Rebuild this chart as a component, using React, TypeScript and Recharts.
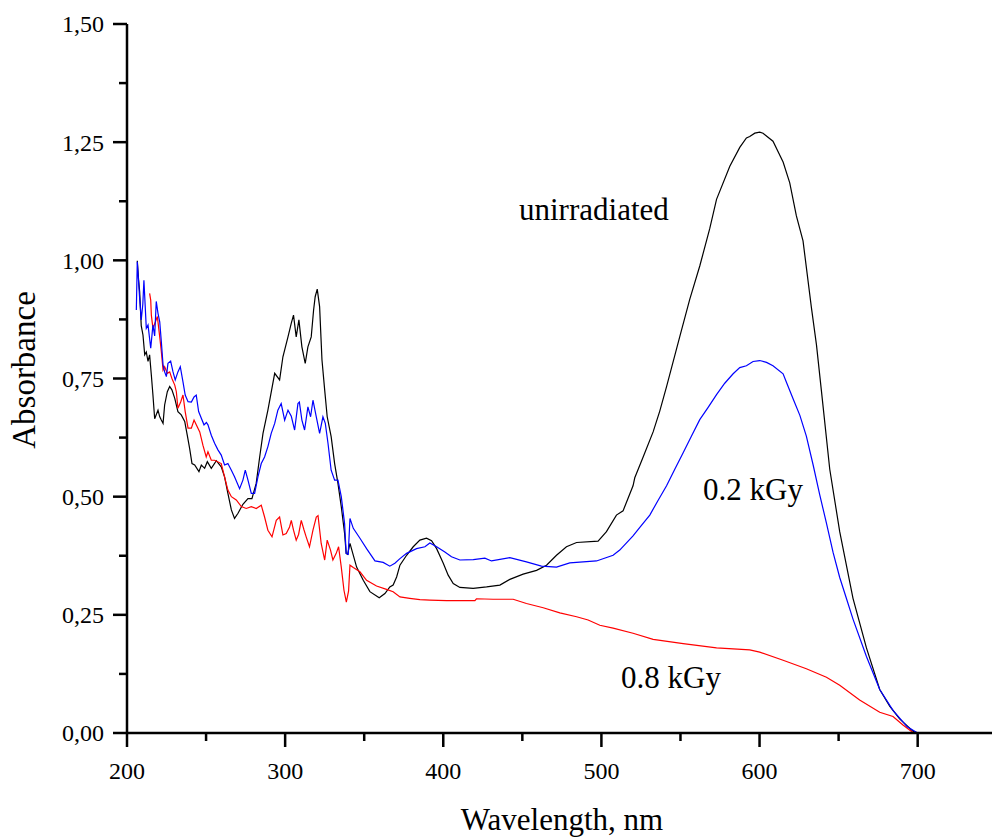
import React from 'react';
import { LineChart, Line, XAxis, YAxis } from 'recharts';

// ---- data (wavelength in nm, absorbance) ----
const unirradiatedNm = [
  206.5, 207.3, 208.0, 209.0, 210.1, 211.2, 212.2, 213.3, 214.3, 215.4, 216.4, 217.5, 219.6, 220.7, 221.7, 222.8,
  223.8, 225.5, 227.0, 228.4, 230.2, 232.2, 234.3, 236.5, 238.1, 239.6, 241.1, 242.8, 245.5, 247.0, 249.1, 250.8,
  253.3, 256.5, 259.6, 261.7, 263.8, 266.0, 268.0, 270.2, 273.3, 276.5, 279.0, 281.7, 283.9, 286.0, 289.1, 293.4,
  296.5, 298.6, 301.8, 303.9, 305.3, 307.0, 308.7, 310.6, 312.7, 314.4, 316.5, 318.0, 319.0, 320.3, 321.8, 323.3,
  325.0, 326.6, 329.1, 331.3, 333.4, 335.5, 337.6, 338.6, 339.5, 341.0, 345.2, 349.4, 353.6, 359.5, 363.1, 366.2,
  368.3, 370.5, 372.6, 376.8, 381.0, 385.2, 389.4, 392.6, 395.8, 400.0, 403.1, 406.3, 410.5, 414.7, 418.9, 427.4,
  435.8, 442.1, 450.5, 459.0, 465.3, 471.6, 477.9, 484.3,
  497.9, 503.2, 509.5, 513.7, 520.0, 521.1, 526.4, 532.7, 536.9, 541.2, 549.6, 555.9, 562.2, 568.5, 572.8, 581.2,
  587.5, 591.7, 593.8, 597.0, 600.1, 602.2, 608.5, 614.9, 619.1, 623.3, 627.5, 632.8, 636.0, 639.1, 644.4, 650.7,
  659.1, 667.6, 676.0, 682.3, 688.6, 697.0, 700.0,
];
const unirradiatedAbs = [
  0.999, 0.960, 0.934, 0.862, 0.842, 0.800, 0.806, 0.786, 0.800, 0.757, 0.715, 0.665, 0.683, 0.669, 0.662, 0.655,
  0.694, 0.722, 0.733, 0.726, 0.708, 0.680, 0.673, 0.659, 0.630, 0.602, 0.570, 0.567, 0.553, 0.567, 0.560, 0.574,
  0.560, 0.576, 0.563, 0.542, 0.507, 0.472, 0.454, 0.465, 0.484, 0.496, 0.496, 0.528, 0.584, 0.634, 0.683, 0.761,
  0.747, 0.796, 0.838, 0.867, 0.884, 0.838, 0.874, 0.817, 0.782, 0.817, 0.838, 0.895, 0.923, 0.939, 0.902, 0.789,
  0.726, 0.669, 0.627, 0.570, 0.528, 0.479, 0.422, 0.380, 0.378, 0.401, 0.351, 0.323, 0.299, 0.286, 0.295, 0.309,
  0.313, 0.330, 0.355, 0.376, 0.394, 0.408, 0.412, 0.407, 0.390, 0.359, 0.334, 0.316, 0.308, 0.307, 0.306, 0.309,
  0.313, 0.325, 0.336, 0.344, 0.355, 0.376, 0.394, 0.403,
  0.406, 0.426, 0.461, 0.470, 0.523, 0.540, 0.584, 0.637, 0.681, 0.733, 0.839, 0.918, 0.988, 1.067, 1.129, 1.199,
  1.239, 1.259, 1.262, 1.269, 1.271, 1.269, 1.252, 1.208, 1.164, 1.094, 1.041, 0.900, 0.821, 0.725, 0.558, 0.426,
  0.285, 0.180, 0.092, 0.057, 0.030, 0.004, 0.000,
];

const dose02Nm = [
  205.9, 206.5, 208.0, 209.0, 210.0, 210.7, 212.2, 213.3, 215.0, 216.4, 217.5, 218.5, 219.6, 220.7, 221.7, 222.8,
  223.8, 224.9, 225.9, 227.6, 229.1, 230.5, 232.2, 233.7, 235.4, 236.8, 238.6, 240.7, 242.4, 243.8, 245.3, 247.0,
  248.7, 250.2, 251.2, 253.3, 255.4, 257.5, 259.6, 261.7, 263.8, 266.0, 268.0, 271.2, 273.3, 274.8, 276.5, 278.6,
  280.7, 282.8, 284.9, 287.0, 289.1, 291.2, 293.4, 295.4, 297.5, 299.7, 301.8, 303.9, 306.0, 308.1, 309.0, 310.6,
  312.3, 314.4, 316.1, 317.6, 319.7, 321.8, 323.9, 325.4, 327.1, 329.1, 331.3, 333.4, 335.5, 337.6, 338.6, 339.9,
  341.0, 343.1, 347.3, 351.5, 356.8, 362.0, 366.2, 369.4, 372.6, 376.8, 383.1, 388.4, 391.5, 395.8, 401.0, 405.2,
  410.5, 419.0, 426.3, 430.5, 442.1, 452.6, 462.1, 471.6, 480.0,
  496.9, 507.4, 511.6, 520.0, 524.3, 530.6, 535.8, 541.2, 546.4, 551.7, 556.9, 562.2, 567.5, 572.8, 578.0, 583.3,
  587.5, 591.7, 595.9, 600.1, 604.4, 608.5, 614.9, 617.0, 621.2, 625.5, 629.6, 633.9, 638.0, 642.3, 646.5, 650.7,
  654.9, 659.1, 667.6, 676.0, 684.4, 693.4, 700.0,
];
const dose02Abs = [
  0.895, 0.997, 0.920, 0.874, 0.907, 0.958, 0.856, 0.863, 0.814, 0.863, 0.840, 0.913, 0.888, 0.870, 0.828, 0.779,
  0.764, 0.754, 0.782, 0.787, 0.764, 0.747, 0.764, 0.775, 0.743, 0.715, 0.701, 0.700, 0.711, 0.715, 0.680, 0.666,
  0.652, 0.657, 0.652, 0.630, 0.613, 0.599, 0.588, 0.567, 0.570, 0.556, 0.542, 0.517, 0.535, 0.556, 0.535, 0.507,
  0.507, 0.542, 0.570, 0.584, 0.606, 0.634, 0.655, 0.683, 0.697, 0.662, 0.683, 0.670, 0.641, 0.697, 0.700, 0.662,
  0.641, 0.690, 0.669, 0.704, 0.669, 0.634, 0.669, 0.655, 0.613, 0.556, 0.535, 0.535, 0.500, 0.443, 0.380, 0.378,
  0.454, 0.433, 0.412, 0.390, 0.364, 0.361, 0.353, 0.359, 0.369, 0.380, 0.390, 0.394, 0.402, 0.394, 0.383, 0.373,
  0.366, 0.367, 0.370, 0.364, 0.371, 0.362, 0.353, 0.351, 0.360,
  0.364, 0.376, 0.387, 0.417, 0.435, 0.461, 0.492, 0.523, 0.558, 0.593, 0.628, 0.663, 0.689, 0.716, 0.740, 0.760,
  0.773, 0.777, 0.786, 0.788, 0.784, 0.777, 0.760, 0.742, 0.707, 0.672, 0.628, 0.567, 0.505, 0.444, 0.382, 0.329,
  0.285, 0.241, 0.162, 0.092, 0.048, 0.013, 0.000,
];

const dose08Nm = [
  214.3, 215.0, 215.4, 216.4, 217.5, 219.2, 220.7, 221.7, 222.8, 223.8, 225.5, 227.0, 228.4, 230.2, 231.2, 232.2,
  234.0, 235.4, 236.8, 238.6, 240.7, 242.4, 243.8, 246.0, 248.0, 250.1, 251.2, 253.3, 255.4, 259.6, 261.7, 263.8,
  266.0, 269.1, 272.3, 275.4, 278.6, 281.7, 284.9, 287.0, 289.1, 291.7, 294.4, 296.5, 298.6, 300.7, 302.8, 303.9,
  305.3, 307.0, 308.5, 310.2, 311.9, 313.3, 315.4, 317.6, 319.7, 320.8, 322.8, 325.0, 326.6, 328.7, 330.2, 332.3,
  333.8, 335.5, 337.2, 338.7, 340.1, 341.0, 343.1, 347.3, 351.5, 357.8, 364.1, 368.3, 372.6, 378.8, 385.2, 391.5,
  402.1, 414.7, 420.0, 421.0, 431.5, 444.2, 452.6, 463.2, 473.7, 484.3, 491.6, 499.0, 507.4, 520.0, 532.7, 551.7,
  572.8, 593.8, 600.1, 614.9, 629.6, 642.3, 650.7, 663.3, 676.0, 684.4, 690.7, 697.0,
];
const dose08Abs = [
  0.930, 0.916, 0.884, 0.856, 0.866, 0.881, 0.838, 0.807, 0.768, 0.775, 0.761, 0.764, 0.750, 0.736, 0.722, 0.687,
  0.701, 0.715, 0.680, 0.645, 0.645, 0.662, 0.652, 0.637, 0.609, 0.584, 0.595, 0.577, 0.577, 0.570, 0.542, 0.514,
  0.500, 0.493, 0.479, 0.475, 0.479, 0.475, 0.482, 0.457, 0.429, 0.415, 0.450, 0.457, 0.419, 0.422, 0.436, 0.450,
  0.429, 0.408, 0.420, 0.450, 0.430, 0.415, 0.394, 0.429, 0.457, 0.460, 0.401, 0.366, 0.408, 0.387, 0.366, 0.380,
  0.394, 0.351, 0.302, 0.277, 0.300, 0.355, 0.350, 0.341, 0.323, 0.311, 0.304, 0.299, 0.288, 0.285, 0.282, 0.281,
  0.280, 0.280, 0.280, 0.284, 0.283, 0.283, 0.274, 0.265, 0.254, 0.246, 0.239, 0.228, 0.222, 0.211, 0.198, 0.189,
  0.180, 0.176, 0.171, 0.154, 0.136, 0.118, 0.101, 0.070, 0.044, 0.035, 0.017, 0.001,
];

const xTicks = [200, 250, 300, 350, 400, 450, 500, 550, 600, 650, 700];
const yTicks = [0, 0.125, 0.25, 0.375, 0.5, 0.625, 0.75, 0.875, 1, 1.125, 1.25, 1.375, 1.5];

const toRows = (nm: number[], abs: number[]) => nm.map((x, i) => ({ nm: x, abs: abs[i] }));

const FONT = '"Liberation Serif", "Times New Roman", serif';

const YTick = (props: any) => {
  const { x, y, payload } = props;
  const v = payload.value as number;
  const major = Math.abs(v * 4 - Math.round(v * 4)) < 1e-6;
  return (
    <g>
      <line x1={x - (major ? 14 : 8)} x2={x} y1={y} y2={y} stroke="#000" strokeWidth={2.5} />
      {major && (
        <text x={x - 23} y={y} dy="0.35em" textAnchor="end" fontFamily={FONT} fontSize={24} fill="#000">
          {v.toFixed(2).replace('.', ',')}
        </text>
      )}
    </g>
  );
};

const XTick = (props: any) => {
  const { x, y, payload } = props;
  const v = payload.value as number;
  const major = v % 100 === 0;
  return (
    <g>
      <line x1={x} x2={x} y1={y} y2={y + (major ? 14 : 8)} stroke="#000" strokeWidth={2.5} />
      {major && (
        <text x={x} y={y + 46} textAnchor="middle" fontFamily={FONT} fontSize={24} fill="#000">
          {String(v)}
        </text>
      )}
    </g>
  );
};

export default function App() {
  return (
    <div style={{ position: 'absolute', left: 0, top: 0, width: 992, height: 839, background: '#fff' }}>
      <LineChart width={992} height={839} margin={{ top: 24, right: 0, bottom: 46, left: 27 }}>
        <XAxis
          type="number"
          dataKey="nm"
          domain={[200, 747]}
          ticks={xTicks}
          interval={0}
          tickSize={0}
          tickMargin={0}
          tickLine={false}
          height={60}
          axisLine={{ stroke: '#000', strokeWidth: 2.5 }}
          tick={<XTick />}
          allowDataOverflow
        />
        <YAxis
          type="number"
          domain={[0, 1.5]}
          ticks={yTicks}
          interval={0}
          tickSize={0}
          tickMargin={0}
          tickLine={false}
          width={100}
          axisLine={{ stroke: '#000', strokeWidth: 2.5 }}
          tick={<YTick />}
          allowDataOverflow
        />
        <Line
          data={toRows(unirradiatedNm, unirradiatedAbs)}
          dataKey="abs"
          type="linear"
          stroke="#000000"
          strokeWidth={1.2}
          dot={false}
          isAnimationActive={false}
        />
        <Line
          data={toRows(dose08Nm, dose08Abs)}
          dataKey="abs"
          type="linear"
          stroke="#ff0000"
          strokeWidth={1.2}
          dot={false}
          isAnimationActive={false}
        />
        <Line
          data={toRows(dose02Nm, dose02Abs)}
          dataKey="abs"
          type="linear"
          stroke="#0000ff"
          strokeWidth={1.2}
          dot={false}
          isAnimationActive={false}
        />
        <text x={562} y={830} textAnchor="middle" fontFamily={FONT} fontSize={31} fill="#000">
          Wavelength, nm
        </text>
        <text
          x={35}
          y={370}
          textAnchor="middle"
          transform="rotate(-90 35 370)"
          fontFamily={FONT}
          fontSize={33}
          fill="#000"
        >
          Absorbance
        </text>
        <text x={519} y={220} fontFamily={FONT} fontSize={31} fill="#000">
          unirradiated
        </text>
        <text x={703} y={500} fontFamily={FONT} fontSize={31} fill="#000">
          0.2 kGy
        </text>
        <text x={621} y={688} fontFamily={FONT} fontSize={31} fill="#000">
          0.8 kGy
        </text>
      </LineChart>
    </div>
  );
}
